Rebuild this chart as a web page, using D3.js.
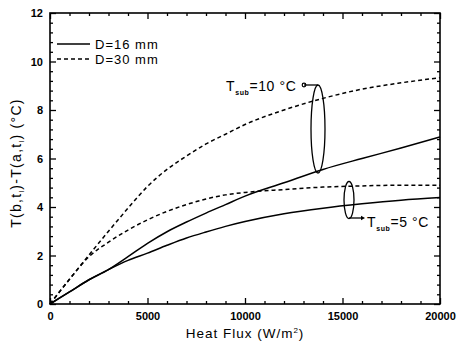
<!DOCTYPE html>
<html>
<head>
<meta charset="utf-8">
<script src="https://cdn.jsdelivr.net/npm/d3@7"></script>
<style>
  body { margin: 0; background: #fff; }
  svg { display: block; font-family: Arial, "Liberation Sans", sans-serif; }
</style>
</head>
<body>
<div id="chart"></div>
<script>
// heat flux (W/m2)
const FLUX = [0, 1000, 2000, 3000, 4000, 5000, 6000, 7000, 8000, 9000, 10000, 12000, 14000, 16000, 18000, 20000];

// T(b,t)-T(a,t) in degC
const D16_SUB10 = [0, 0.5, 1.0, 1.42, 1.95, 2.5, 2.98, 3.38, 3.75, 4.1, 4.45, 5.0, 5.55, 6.0, 6.43, 6.89];
const D16_SUB5  = [0, 0.5, 1.0, 1.42, 1.8, 2.1, 2.42, 2.72, 2.97, 3.2, 3.4, 3.72, 3.95, 4.13, 4.28, 4.39];
const D30_SUB10 = [0, 1.02, 2.02, 3.0, 3.95, 4.85, 5.55, 6.1, 6.6, 7.0, 7.4, 8.0, 8.48, 8.86, 9.12, 9.33];
const D30_SUB5  = [0, 1.02, 1.95, 2.55, 3.05, 3.47, 3.82, 4.1, 4.33, 4.5, 4.6, 4.72, 4.82, 4.87, 4.9, 4.9];

const X_TICKS = [0, 5000, 10000, 15000, 20000];
const Y_TICKS = [0, 2, 4, 6, 8, 10, 12];

const W = 457, H = 345;
const margin = { left: 50, right: 17, top: 13, bottom: 41 };

const svg = d3.select("#chart").append("svg")
    .attr("width", W)
    .attr("height", H);

const x = d3.scaleLinear().domain([0, 20000]).range([margin.left, W - margin.right]);
const y = d3.scaleLinear().domain([0, 12]).range([H - margin.bottom, margin.top]);

// ticks, inside, all four sides
const xMinor = d3.range(0, 20001, 1000).filter(v => v % 5000 !== 0);
const yMinor = d3.range(0, 12.01, 0.4).filter(v => Math.abs(v / 2 - Math.round(v / 2)) > 1e-6);

function axisStyle(sel) {
    sel.select(".domain").remove();
    sel.selectAll("line").attr("stroke", "#000").attr("stroke-width", 1.3);
    sel.selectAll("text").attr("fill", "#000").style("font-size", "11px").style("font-weight", "bold");
}

svg.append("g").attr("transform", `translate(0,${y(0)})`)
    .call(d3.axisBottom(x).tickValues(X_TICKS).tickSize(-6).tickPadding(8).tickFormat(d3.format("d")))
    .call(axisStyle);
svg.append("g").attr("transform", `translate(0,${y(0)})`)
    .call(d3.axisBottom(x).tickValues(xMinor).tickSize(-3).tickFormat(""))
    .call(axisStyle);
svg.append("g").attr("transform", `translate(0,${y(12)})`)
    .call(d3.axisTop(x).tickValues(X_TICKS).tickSize(-6).tickFormat(""))
    .call(axisStyle);
svg.append("g").attr("transform", `translate(0,${y(12)})`)
    .call(d3.axisTop(x).tickValues(xMinor).tickSize(-3).tickFormat(""))
    .call(axisStyle);

svg.append("g").attr("transform", `translate(${x(0)},0)`)
    .call(d3.axisLeft(y).tickValues(Y_TICKS).tickSize(-6).tickPadding(7))
    .call(axisStyle);
svg.append("g").attr("transform", `translate(${x(0)},0)`)
    .call(d3.axisLeft(y).tickValues(yMinor).tickSize(-3).tickFormat(""))
    .call(axisStyle);
svg.append("g").attr("transform", `translate(${x(20000)},0)`)
    .call(d3.axisRight(y).tickValues(Y_TICKS).tickSize(-6).tickFormat(""))
    .call(axisStyle);
svg.append("g").attr("transform", `translate(${x(20000)},0)`)
    .call(d3.axisRight(y).tickValues(yMinor).tickSize(-3).tickFormat(""))
    .call(axisStyle);

// frame
svg.append("rect")
    .attr("x", x(0)).attr("y", y(12))
    .attr("width", x(20000) - x(0)).attr("height", y(0) - y(12))
    .attr("fill", "none").attr("stroke", "#000").attr("stroke-width", 1.6);

// curves
const line = d3.line()
    .x((d, i) => x(FLUX[i]))
    .y(d => y(d))
    .curve(d3.curveMonotoneX);

const series = [
    { values: D16_SUB10, dash: null },
    { values: D16_SUB5, dash: null },
    { values: D30_SUB10, dash: "4,3" },
    { values: D30_SUB5, dash: "4,3" }
];

svg.append("g").selectAll("path")
    .data(series)
    .join("path")
    .attr("d", d => line(d.values))
    .attr("fill", "none")
    .attr("stroke", "#000")
    .attr("stroke-width", 1.5)
    .attr("stroke-dasharray", d => d.dash);

// legend
const legend = svg.append("g").attr("transform", "translate(57,44)");
[["D=16 mm", null], ["D=30 mm", "4,3"]].forEach(([label, dash], i) => {
    legend.append("line")
        .attr("x1", 0).attr("x2", 33)
        .attr("y1", i * 15).attr("y2", i * 15)
        .attr("stroke", "#000").attr("stroke-width", 1.5)
        .attr("stroke-dasharray", dash);
    legend.append("text")
        .attr("x", 38).attr("y", i * 15 + 5)
        .style("font-size", "13px")
        .style("letter-spacing", "1px")
        .text(label);
});

// annotations: Tsub = 10 C
svg.append("ellipse")
    .attr("cx", 318).attr("cy", 129).attr("rx", 7).attr("ry", 44)
    .attr("fill", "none").attr("stroke", "#000").attr("stroke-width", 1.3);
svg.append("line")
    .attr("x1", 304).attr("x2", 318).attr("y1", 85).attr("y2", 85)
    .attr("stroke", "#000").attr("stroke-width", 1.3);
svg.append("circle")
    .attr("cx", 304).attr("cy", 85).attr("r", 1.8)
    .attr("fill", "none").attr("stroke", "#000").attr("stroke-width", 1.2);

const t10 = svg.append("text").attr("x", 226).attr("y", 91).style("font-size", "14px").style("letter-spacing", "0.6px");
t10.append("tspan").text("T");
t10.append("tspan").attr("dy", 4).style("font-size", "7px").style("font-weight", "bold").text("sub");
t10.append("tspan").attr("dy", -4).text("=10 °C");

// annotations: Tsub = 5 C
svg.append("ellipse")
    .attr("cx", 349).attr("cy", 200).attr("rx", 5).attr("ry", 18.5)
    .attr("fill", "none").attr("stroke", "#000").attr("stroke-width", 1.3);
svg.append("line")
    .attr("x1", 349).attr("x2", 362).attr("y1", 218).attr("y2", 218)
    .attr("stroke", "#000").attr("stroke-width", 1.3);
svg.append("path")
    .attr("d", "M361,215.8 L365,218 L361,220.2 Z")
    .attr("fill", "#000");

const t5 = svg.append("text").attr("x", 367).attr("y", 227).style("font-size", "14px").style("letter-spacing", "0.6px");
t5.append("tspan").text("T");
t5.append("tspan").attr("dy", 4).style("font-size", "7px").style("font-weight", "bold").text("sub");
t5.append("tspan").attr("dy", -4).text("=5 °C");

// axis titles
const xt = svg.append("text")
    .attr("x", (x(0) + x(20000)) / 2).attr("y", 338)
    .attr("text-anchor", "middle")
    .style("font-size", "13.5px")
    .style("letter-spacing", "1px");
xt.append("tspan").text("Heat Flux (W/m");
xt.append("tspan").attr("dy", -5).style("font-size", "8px").text("2");
xt.append("tspan").attr("dy", 5).text(")");

const yt = svg.append("text")
    .attr("transform", `translate(21,163) rotate(-90)`)
    .attr("text-anchor", "middle")
    .style("font-size", "14px")
    .style("letter-spacing", "1.3px");
yt.append("tspan").text("T(b,t");
yt.append("tspan").attr("dy", 3).style("font-size", "7px").text("l");
yt.append("tspan").attr("dy", -3).text(")-T(a,t");
yt.append("tspan").attr("dy", 3).style("font-size", "7px").text("l");
yt.append("tspan").attr("dy", -3).text(")   (°C)");
</script>
</body>
</html>
